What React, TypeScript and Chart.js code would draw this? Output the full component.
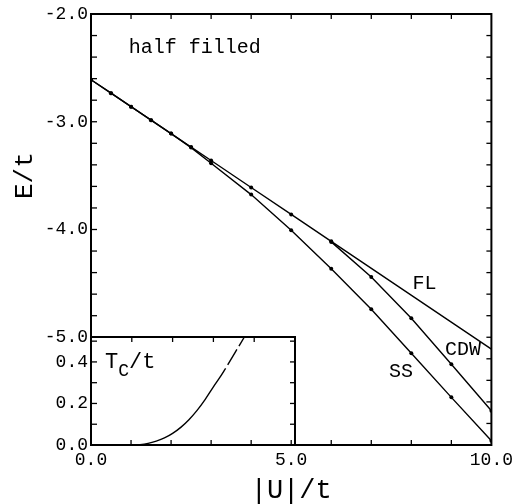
import React, { useEffect, useRef } from "react";
import { Chart, registerables } from "chart.js";
Chart.register(...registerables);

const FONT = "'Liberation Mono', 'DejaVu Sans Mono', monospace";

// Main panel: E/t vs |U|/t
const flU = [0, 0.5, 1, 1.5, 2, 2.5, 3, 4, 5, 6, 10];
const flE = [-2.61, -2.735, -2.86, -2.985, -3.11, -3.235, -3.36, -3.61, -3.86, -4.11, -5.11];
const ssU = [0, 0.5, 1, 1.5, 2, 2.5, 3, 4, 5, 6, 7, 8, 9, 10];
const ssE = [-2.61, -2.735, -2.86, -2.985, -3.11, -3.24, -3.385, -3.676, -4.006, -4.364, -4.741, -5.148, -5.558, -5.96];
const cdwU = [6, 7, 8, 9, 10];
const cdwE = [-4.115, -4.441, -4.824, -5.25, -5.682];

const xTickLabels = [0, 5, 10];
const yTickLabels = [-2, -3, -4, -5];

// Inset: Tc/t vs |U|/t
const tcU = [1.0, 1.2, 1.4, 1.6, 1.8, 2.0, 2.2, 2.4, 2.6, 2.8, 3.0, 3.15, 3.3];
const tcV = [0, 0.002, 0.008, 0.019, 0.034, 0.056, 0.085, 0.122, 0.167, 0.22, 0.28, 0.323, 0.369];
const tcExtU = [3.3, 3.53, 3.76];
const tcExtV = [0.369, 0.445, 0.52];
const insetYTickLabels = [0, 0.2, 0.4];

const pts = (xs: number[], ys: number[]) => xs.map((x, i) => ({ x, y: ys[i] }));

function tickLine(ctx: CanvasRenderingContext2D, x1: number, y1: number, x2: number, y2: number) {
  ctx.beginPath();
  ctx.moveTo(x1, y1);
  ctx.lineTo(x2, y2);
  ctx.stroke();
}

const mainPlugin = {
  id: "mainDecor",
  afterDraw(chart: any) {
    const { ctx, chartArea: a, scales } = chart;
    const xs = scales.x, ys = scales.y;
    ctx.save();
    ctx.strokeStyle = "#000";
    ctx.lineWidth = 2;
    ctx.strokeRect(a.left, a.top, a.right - a.left, a.bottom - a.top);
    ctx.lineWidth = 1.3;
    for (let u = 1; u < 10; u++) {
      const px = xs.getPixelForValue(u);
      tickLine(ctx, px, a.bottom, px, a.bottom - 5);
      tickLine(ctx, px, a.top, px, a.top + 5);
    }
    for (let k = 1; k < 20; k++) {
      const v = -2 - k * 0.2;
      const py = ys.getPixelForValue(v);
      tickLine(ctx, a.right, py, a.right - 5, py);
      if (v >= -5.0001) tickLine(ctx, a.left, py, a.left + 6, py);
    }
    ctx.fillStyle = "#000";
    ctx.textBaseline = "alphabetic";
    ctx.textAlign = "left";
    ctx.font = `20px ${FONT}`;
    ctx.fillText("half filled", xs.getPixelForValue(0.94), ys.getPixelForValue(-2.362));
    ctx.font = `20px ${FONT}`;
    ctx.textBaseline = "middle";
    ctx.fillText("FL", xs.getPixelForValue(8.03), ys.getPixelForValue(-4.506));
    ctx.fillText("CDW", xs.getPixelForValue(8.84), ys.getPixelForValue(-5.118));
    ctx.fillText("SS", xs.getPixelForValue(7.44), ys.getPixelForValue(-5.322));
    // axis titles
    ctx.textAlign = "center";
    ctx.font = `27px ${FONT}`;
    ctx.fillText("|U|/t", xs.getPixelForValue(5), 491);
    ctx.save();
    ctx.translate(25, ys.getPixelForValue(-3.5));
    ctx.rotate(-Math.PI / 2);
    ctx.font = `26px ${FONT}`;
    ctx.fillText("E/t", 0, 0);
    ctx.restore();
    ctx.restore();
  },
};

const insetPlugin = {
  id: "insetDecor",
  afterDraw(chart: any) {
    const { ctx, chartArea: a, scales } = chart;
    const xs = scales.x, ys = scales.y;
    ctx.save();
    ctx.strokeStyle = "#000";
    ctx.lineWidth = 2;
    ctx.beginPath();
    ctx.moveTo(a.left, a.top);
    ctx.lineTo(a.right, a.top);
    ctx.lineTo(a.right, a.bottom);
    ctx.stroke();
    ctx.lineWidth = 1.3;
    for (let u = 1; u < 5; u++) {
      const px = xs.getPixelForValue(u);
      tickLine(ctx, px, a.top, px, a.top + 5);
    }
    for (let k = 1; k <= 5; k++) {
      const py = ys.getPixelForValue(k * 0.1);
      tickLine(ctx, a.left, py, a.left + 6, py);
      tickLine(ctx, a.right, py, a.right - 5, py);
    }
    ctx.fillStyle = "#000";
    ctx.textAlign = "left";
    ctx.textBaseline = "alphabetic";
    const x0 = xs.getPixelForValue(0.345);
    const y0 = ys.getPixelForValue(0.371);
    ctx.font = `22px ${FONT}`;
    ctx.fillText("T", x0, y0);
    const w1 = ctx.measureText("T").width;
    ctx.font = `18px ${FONT}`;
    ctx.fillText("C", x0 + w1, y0 + 8);
    const w2 = ctx.measureText("C").width;
    ctx.font = `22px ${FONT}`;
    ctx.fillText("/t", x0 + w1 + w2, y0);
    ctx.restore();
  },
};

const lineDs = (label: string, data: any[], radius: (i: number) => number) => ({
  label,
  data,
  borderColor: "#000",
  borderWidth: 1.4,
  backgroundColor: "#000",
  pointBackgroundColor: "#000",
  pointBorderWidth: 0,
  pointRadius: (c: any) => radius(c.dataIndex),
  tension: 0,
  fill: false,
});

export default function App() {
  const mainRef = useRef<HTMLCanvasElement>(null);
  const insetRef = useRef<HTMLCanvasElement>(null);

  useEffect(() => {
    const tickFont = { family: FONT, size: 18 };
    const main = new Chart(mainRef.current!, {
      type: "line",
      data: {
        datasets: [
          lineDs("FL", pts(flU, flE), (i) => (i === flU.length - 1 ? 0 : 2)),
          lineDs("SS", pts(ssU, ssE), () => 2),
          lineDs("CDW", pts(cdwU, cdwE), () => 2),
        ] as any,
      },
      options: {
        animation: false,
        responsive: false,
        events: [],
        layout: { padding: { top: 14, right: 20, left: 0, bottom: 0 } },
        plugins: { legend: { display: false }, tooltip: { enabled: false } },
        scales: {
          x: {
            type: "linear",
            min: 0,
            max: 10,
            afterBuildTicks: (s: any) => {
              s.ticks = xTickLabels.map((v) => ({ value: v }));
            },
            afterFit: (s: any) => {
              s.height = 59;
            },
            ticks: {
              font: tickFont,
              color: "#000",
              padding: 4,
              maxRotation: 0,
              autoSkip: false,
              callback: (v: any) => Number(v).toFixed(1),
            },
            grid: { display: false, drawTicks: false },
            border: { display: false },
          },
          y: {
            type: "linear",
            min: -6,
            max: -2,
            afterBuildTicks: (s: any) => {
              s.ticks = yTickLabels.map((v) => ({ value: v }));
            },
            afterFit: (s: any) => {
              s.width = 91;
            },
            ticks: {
              font: tickFont,
              color: "#000",
              padding: 3,
              autoSkip: false,
              callback: (v: any) => Number(v).toFixed(1),
            },
            grid: { display: false, drawTicks: false },
            border: { display: false },
          },
        },
      },
      plugins: [mainPlugin],
    });

    const inset = new Chart(insetRef.current!, {
      type: "line",
      data: {
        datasets: [
          {
            data: pts(tcU, tcV),
            borderColor: "#000",
            borderWidth: 1.4,
            pointRadius: 0,
            cubicInterpolationMode: "monotone",
            fill: false,
          },
          {
            data: pts(tcExtU, tcExtV),
            borderColor: "#000",
            borderWidth: 1.4,
            pointRadius: 0,
            borderDash: [18, 4],
            borderDashOffset: 18,
            fill: false,
          },
        ] as any,
      },
      options: {
        animation: false,
        responsive: false,
        events: [],
        layout: { padding: { top: 17, right: 5, left: 0, bottom: 15 } },
        plugins: { legend: { display: false }, tooltip: { enabled: false } },
        scales: {
          x: { type: "linear", min: 0, max: 5, display: false },
          y: {
            type: "linear",
            min: 0,
            max: 0.52,
            afterBuildTicks: (s: any) => {
              s.ticks = insetYTickLabels.map((v) => ({ value: v }));
            },
            afterFit: (s: any) => {
              s.width = 91;
            },
            ticks: {
              font: tickFont,
              color: "#000",
              padding: 3,
              autoSkip: false,
              callback: (v: any) => Number(v).toFixed(1),
            },
            grid: { display: false, drawTicks: false },
            border: { display: false },
          },
        },
      },
      plugins: [insetPlugin],
    });

    return () => {
      main.destroy();
      inset.destroy();
    };
  }, []);

  return (
    <div style={{ position: "absolute", left: 0, top: 0, width: 517, height: 504, background: "#fff" }}>
      <canvas ref={mainRef} width={517} height={504} style={{ position: "absolute", left: 0, top: 0 }} />
      <canvas ref={insetRef} width={300} height={140} style={{ position: "absolute", left: 0, top: 320 }} />
    </div>
  );
}
